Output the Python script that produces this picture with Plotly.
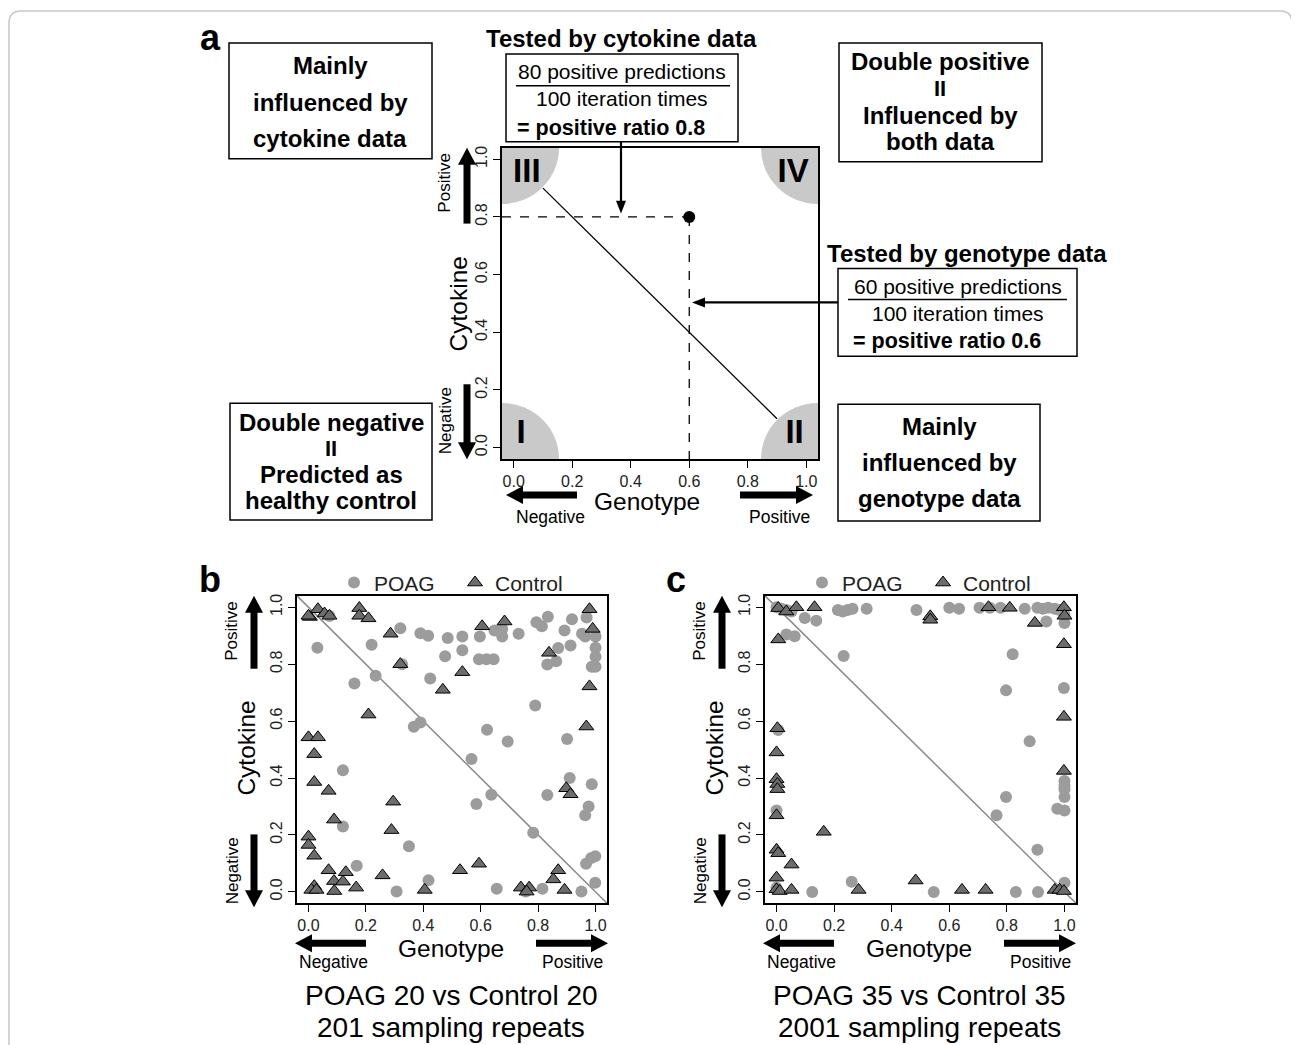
import math
import plotly.graph_objects as go

# The page body has an 8px margin, so the figure is laid out in reference
# pixel coordinates shifted by that margin.
OFF = 8
W, H = 1299 - OFF, 1045 - OFF
FONT = "Liberation Sans, Arial, sans-serif"


def X(px):
    return (px - OFF) / W


def Y(py):
    return 1 - (py - OFF) / H


# ---------------- data ----------------
tick_vals = [0.0, 0.2, 0.4, 0.6, 0.8, 1.0]
tick_text = ["0.0", "0.2", "0.4", "0.6", "0.8", "1.0"]
axis_range = [-0.04, 1.04]

# panel a (schematic)
a_point_x = [0.6]
a_point_y = [0.8]
a_line_x = [0.1, 0.9]
a_line_y = [0.9, 0.1]
a_numerals = ["III", "IV", "I", "II"]
a_numeral_x = [0.045, 0.955, 0.025, 0.96]
a_numeral_y = [0.95, 0.95, 0.045, 0.045]
a_corner_x = [-0.04, 1.04, -0.04, 1.04]
a_corner_y = [1.04, 1.04, -0.04, -0.04]
a_corner_r = 0.195

# reference line y = 1 - x
abline_intercept = 1.0
abline_slope = -1.0

# panel b: POAG 20 vs Control 20
b_poag_x = [0.031, 0.073, 0.16, 0.12, 0.12, 0.168, 0.22, 0.234, 0.307, 0.32, 0.326, 0.35,
            0.367, 0.39, 0.39, 0.417, 0.424, 0.418, 0.476, 0.485, 0.536, 0.536, 0.597,
            0.594, 0.62, 0.645, 0.622, 0.568, 0.585, 0.637, 0.648, 0.675, 0.675, 0.694,
            0.656, 0.732, 0.79, 0.783, 0.794, 0.813, 0.834, 0.832, 0.832, 0.815, 0.757,
            0.863, 0.87, 0.892, 0.913, 0.918, 0.901, 0.91, 0.951, 0.953, 0.964, 0.969,
            0.976, 0.964, 0.987, 1.0, 1.0, 1.0, 0.987, 1.0, 0.967, 0.985, 0.999, 0.999]
b_poag_y = [0.858, 0.969, 0.732, 0.427, 0.23, 0.092, 0.868, 0.759, 0.001, 0.926, 0.80, 0.16,
            0.58, 0.595, 0.909, 0.90, 0.75, 0.041, 0.828, 0.892, 0.897, 0.849, 0.897,
            0.817, 0.817, 0.817, 0.57, 0.467, 0.309, 0.341, 0.918, 0.924, 0.897, 0.528,
            0.011, 0.907, 0.655, 0.208, 0.947, 0.933, 0.967, 0.799, 0.34, 0.011, 0.001,
            0.81, 0.857, 0.918, 0.866, 0.958, 0.537, 0.40, 0.001, 0.907, 0.897, 0.964,
            0.30, 0.269, 0.378, 0.897, 0.858, 0.826, 0.791, 0.791, 0.099, 0.119, 0.125, 0.032]
b_ctrl_x = [0.005, 0.033, 0.056, 0.073, 0.0, 0.177, 0.177, 0.209, 0.286, 0.32, 0.468, 0.209,
            0.0, 0.033, 0.02, 0.02, 0.07, 0.295, 0.089, 0.289, 0.0, 0.0, 0.02, 0.07, 0.13,
            0.258, 0.089, 0.12, 0.166, 0.02, 0.01, 0.028, 0.09, 0.405, 0.605, 0.683, 0.979,
            0.99, 0.838, 0.536, 0.979, 0.968, 0.898, 0.913, 0.528, 0.594, 0.74, 0.769, 0.76,
            0.87, 0.853, 0.892]
b_ctrl_y = [0.966, 0.993, 0.978, 0.97, 0.97, 0.997, 0.97, 0.961, 0.907, 0.80, 0.71, 0.623,
            0.543, 0.543, 0.484, 0.386, 0.355, 0.317, 0.254, 0.217, 0.194, 0.165, 0.127, 0.076,
            0.069, 0.058, 0.038, 0.036, 0.015, 0.02, 0.007, 0.007, 0.003, 0.007, 0.933, 0.95,
            0.993, 0.924, 0.84, 0.772, 0.722, 0.581, 0.364, 0.343, 0.076, 0.099, 0.015, 0.015,
            0.001, 0.076, 0.044, 0.007]

# panel c: POAG 35 vs Control 35
c_poag_x = [0.0, 0.017, 0.034, 0.052, 0.213, 0.23, 0.247, 0.264, 0.313, 0.486, 0.6, 0.634,
            0.705, 0.741, 0.778, 0.862, 0.906, 0.925, 0.943, 0.966, 0.983, 0.998,
            0.098, 0.138, 0.937, 0.034, 0.063, 0.233, 0.82, 0.797, 0.998, 0.879, 0.797,
            0.764, 0.906, 1.0, 1.0, 1.0, 1.0, 0.975, 1.0, 0.006, 0.0, 0.0, 0.124, 0.261,
            0.546, 0.831, 0.908, 1.0, 1.0, 1.0]
c_poag_y = [1.0, 0.995, 0.99, 0.985, 0.99, 0.985, 0.99, 0.995, 0.995, 0.99, 0.998, 0.995,
            0.998, 0.998, 0.998, 0.995, 0.998, 0.995, 0.998, 0.995, 0.99, 0.99,
            0.962, 0.953, 0.95, 0.904, 0.898, 0.829, 0.835, 0.708, 0.716, 0.529, 0.333,
            0.269, 0.148, 0.39, 0.373, 0.361, 0.333, 0.292, 0.286, 0.569, 0.286, 0.015, 0.0,
            0.036, 0.0, 0.0, 0.0, 0.032, 0.973, 0.945]
c_ctrl_x = [0.006, 0.034, 0.069, 0.132, 0.534, 0.534, 0.736, 0.81, 0.897, 0.998, 1.0, 0.998,
            0.998, 0.998, 0.006, 0.003, 0.0, 0.0, 0.003, 0.003, 0.0, 0.0, 0.006, 0.052, 0.0,
            0.0, 0.011, 0.052, 0.164, 0.285, 0.483, 0.644, 0.726, 0.966, 0.983, 0.998]
c_ctrl_y = [0.997, 0.985, 1.0, 1.0, 0.968, 0.956, 1.0, 0.998, 0.945, 1.0, 0.97, 0.87,
            0.615, 0.425, 0.887, 0.575, 0.49, 0.396, 0.379, 0.361, 0.269, 0.148, 0.136, 0.096,
            0.05, 0.009, 0.003, 0.007, 0.211, 0.007, 0.04, 0.007, 0.007, 0.007, 0.007, 0.003]

# ---------------- figure ----------------
fig = go.Figure()
shapes = []
annotations = []


def txt(s, x, y, size, bold=False, angle=0, xanchor="center", color="black"):
    annotations.append(dict(text=f"<b>{s}</b>" if bold else s, x=X(x), y=Y(y),
                            xref="paper", yref="paper", showarrow=False,
                            font=dict(size=size, family=FONT, color=color),
                            xanchor=xanchor, yanchor="middle", textangle=angle))


def box(x0, y0, x1, y1, width=1.5):
    shapes.append(dict(type="rect", xref="paper", yref="paper", x0=X(x0), x1=X(x1),
                       y0=Y(y1), y1=Y(y0), line=dict(color="black", width=width)))


def hline(x0, x1, y, width=1.5):
    shapes.append(dict(type="line", xref="paper", yref="paper", x0=X(x0), x1=X(x1),
                       y0=Y(y), y1=Y(y), line=dict(color="black", width=width)))


def arrow(x0, y0, x1, y1, w=7, hl=17, hw=18):
    dx, dy = x1 - x0, y1 - y0
    L = math.hypot(dx, dy)
    ux, uy = dx / L, dy / L
    bx, by = x1 - ux * hl, y1 - uy * hl
    shapes.append(dict(type="line", xref="paper", yref="paper", x0=X(x0), y0=Y(y0),
                       x1=X(bx + ux * 1), y1=Y(by + uy * 1),
                       line=dict(color="black", width=w)))
    nx, ny = -uy, ux
    p = (f"M {X(x1)},{Y(y1)} L {X(bx + nx * hw / 2)},{Y(by + ny * hw / 2)} "
         f"L {X(bx - nx * hw / 2)},{Y(by - ny * hw / 2)} Z")
    shapes.append(dict(type="path", xref="paper", yref="paper", path=p,
                       fillcolor="black", line=dict(width=0)))


# outer rounded border
r = 12
bl, bt, br_ = 9, 9, 1292
shapes.append(dict(type="path", xref="paper", yref="paper",
                   path=(f"M {X(bl)},{Y(1070)} L {X(bl)},{Y(bt + r)} Q {X(bl)},{Y(bt)} {X(bl + r)},{Y(bt)} "
                         f"L {X(br_ - r)},{Y(bt)} Q {X(br_)},{Y(bt)} {X(br_)},{Y(bt + r)} "
                         f"L {X(br_)},{Y(1070)}"),
                   line=dict(color="#c8c8c8", width=1.5)))

# ---- panel a traces ----
for cx, cy in zip(a_corner_x, a_corner_y):
    shapes.append(dict(type="circle", xref="x", yref="y", x0=cx - a_corner_r, x1=cx + a_corner_r,
                       y0=cy - a_corner_r, y1=cy + a_corner_r, fillcolor="#c9c9c9",
                       line=dict(width=0), layer="below"))

fig.add_trace(go.Scatter(x=a_line_x, y=a_line_y, mode="lines", line=dict(color="black", width=1.3),
                         xaxis="x", yaxis="y", showlegend=False, hoverinfo="skip"))
fig.add_trace(go.Scatter(x=[axis_range[0], a_point_x[0]], y=[a_point_y[0], a_point_y[0]], mode="lines",
                         line=dict(color="black", width=1.3, dash="dash"),
                         xaxis="x", yaxis="y", showlegend=False))
fig.add_trace(go.Scatter(x=[a_point_x[0], a_point_x[0]], y=[a_point_y[0], axis_range[0]], mode="lines",
                         line=dict(color="black", width=1.3, dash="dash"),
                         xaxis="x", yaxis="y", showlegend=False))
fig.add_trace(go.Scatter(x=a_point_x, y=a_point_y, mode="markers",
                         marker=dict(color="black", size=12), xaxis="x", yaxis="y", showlegend=False))
fig.add_trace(go.Scatter(x=a_numeral_x, y=a_numeral_y, mode="text", text=[f"<b>{t}</b>" for t in a_numerals],
                         textfont=dict(size=33, family=FONT, color="black"), textposition="middle center",
                         xaxis="x", yaxis="y", showlegend=False))

# ---- panels b, c ----
POAG_COLOR = "#9c9c9c"
CTRL_COLOR = "#6c6c6c"
abx = axis_range
aby = [abline_intercept + abline_slope * v for v in abx]
for (px_, py_, cx_, cy_, xa, ya, lg) in [
    (b_poag_x, b_poag_y, b_ctrl_x, b_ctrl_y, "x2", "y2", "legend"),
    (c_poag_x, c_poag_y, c_ctrl_x, c_ctrl_y, "x3", "y3", "legend2"),
]:
    fig.add_trace(go.Scatter(x=abx, y=aby, mode="lines", line=dict(color="#8a8a8a", width=1.5),
                             xaxis=xa, yaxis=ya, showlegend=False, hoverinfo="skip"))
    fig.add_trace(go.Scatter(x=px_, y=py_, mode="markers", name="POAG",
                             marker=dict(symbol="circle", size=12, color=POAG_COLOR,
                                         line=dict(width=0)),
                             xaxis=xa, yaxis=ya, legend=lg))
    fig.add_trace(go.Scatter(x=cx_, y=cy_, mode="markers", name="Control",
                             marker=dict(symbol="triangle-up", size=13, color=CTRL_COLOR,
                                         line=dict(width=1, color="black")),
                             xaxis=xa, yaxis=ya, legend=lg))

# ---- axes ----
def xax(domain, anchor):
    return dict(domain=domain, anchor=anchor, range=axis_range, showgrid=False, zeroline=False,
                showline=True, mirror=True, linecolor="black", linewidth=1.5,
                ticks="outside", ticklen=7, tickwidth=1.2, tickcolor="black",
                tickvals=tick_vals, ticktext=tick_text,
                tickfont=dict(size=16, family=FONT, color="#222"))


def yax(domain, anchor):
    d = xax(domain, anchor)
    d["tickangle"] = -90
    return d


ydom_a = [Y(458), Y(146)]
ydom_bc = [Y(903), Y(595)]
layout_axes = dict(
    xaxis=xax([X(502), X(818)], "y"), yaxis=yax(ydom_a, "x"),
    xaxis2=xax([X(297), X(607)], "y2"), yaxis2=yax(ydom_bc, "x2"),
    xaxis3=xax([X(765), X(1076)], "y3"), yaxis3=yax(ydom_bc, "x3"),
)

BT = 24  # bold box text size
RT = 21.5  # ratio line size
# ---- panel a annotations ----
txt("a", 210, 36, 36, bold=True)
box(229, 41, 432, 157)
txt("Mainly", 330, 64, BT, bold=True)
txt("influenced by", 330, 101, BT, bold=True)
txt("cytokine data", 330, 137, BT, bold=True)

txt("Tested by cytokine data", 621, 37, BT, bold=True)
box(506, 52, 738, 140)
txt("80 positive predictions", 622, 70, 21)
hline(516, 730, 84)
txt("100 iteration times", 622, 97, 21)
txt("= positive ratio 0.8", 515, 126, RT, bold=True, xanchor="left")
arrow(621, 140, 621, 212, w=2.2, hl=13, hw=10)

box(839, 41, 1042, 160)
txt("Double positive", 940, 60, BT, bold=True)
txt("II", 940, 87, 22, bold=True)
txt("Influenced by", 940, 114, BT, bold=True)
txt("both data", 940, 140, BT, bold=True)

txt("Tested by genotype data", 967, 252, BT, bold=True)
box(838, 267, 1077, 355)
txt("60 positive predictions", 958, 285, 21)
hline(848, 1067, 298)
txt("100 iteration times", 958, 312, 21)
txt("= positive ratio 0.6", 851, 340, RT, bold=True, xanchor="left")
arrow(838, 301, 692, 301, w=2.2, hl=13, hw=10)

box(230, 402, 432, 519)
txt("Double negative", 331, 421, BT, bold=True)
txt("II", 331, 447, 22, bold=True)
txt("Predicted as", 331, 473, BT, bold=True)
txt("healthy control", 331, 499, BT, bold=True)

box(838, 403, 1040, 520)
txt("Mainly", 939, 425, BT, bold=True)
txt("influenced by", 939, 461, BT, bold=True)
txt("genotype data", 939, 497, BT, bold=True)

txt("Cytokine", 458, 303, 24.5, angle=-90)
txt("Positive", 445, 181, 17, angle=-90)
txt("Negative", 445, 420, 17, angle=-90)
arrow(467, 222, 467, 146)
arrow(467, 383, 467, 458)
txt("Genotype", 647, 500, 24.5)
arrow(577, 494, 506, 494)
arrow(740, 494, 813, 494)
txt("Negative", 550, 516, 17.5)
txt("Positive", 779, 516, 17.5)

# ---- panels b, c annotations ----
for (lab, lx, dx, caption1, caption2) in [
    ("b", 210, 0, "POAG 20 vs Control 20", "201 sampling repeats"),
    ("c", 676, 468, "POAG 35 vs Control 35", "2001 sampling repeats"),
]:
    txt(lab, lx, 579, 36, bold=True)
    txt("Cytokine", 247 + dx, 748, 24.5, angle=-90)
    txt("Positive", 232 + dx, 630, 17, angle=-90)
    txt("Negative", 232 + dx, 870, 17, angle=-90)
    arrow(254 + dx, 668, 254 + dx, 595)
    arrow(254 + dx, 834, 254 + dx, 907)
    txt("Genotype", 451 + dx, 948, 24.5)
    arrow(366 + dx, 943, 295 + dx, 943)
    arrow(536 + dx, 943, 608 + dx, 943)
    txt("Negative", 333 + dx, 962, 17.5)
    txt("Positive", 572 + dx, 962, 17.5)
    txt(caption1, 451 + dx, 995, 28)
    txt(caption2, 451 + dx, 1027, 28)

legend_common = dict(orientation="h", xanchor="left", yanchor="middle",
                     font=dict(size=21, family=FONT, color="#222"),
                     bgcolor="rgba(0,0,0,0)", entrywidth=76, entrywidthmode="pixels")

fig.update_layout(
    width=W, height=H, margin=dict(l=0, r=0, t=0, b=0),
    paper_bgcolor="white", plot_bgcolor="white",
    font=dict(family=FONT, color="black"),
    shapes=shapes, annotations=annotations,
    legend=dict(x=X(334), y=Y(582), **legend_common),
    legend2=dict(x=X(802), y=Y(582), **legend_common),
    **layout_axes,
)

fig.write_html("out.html")
